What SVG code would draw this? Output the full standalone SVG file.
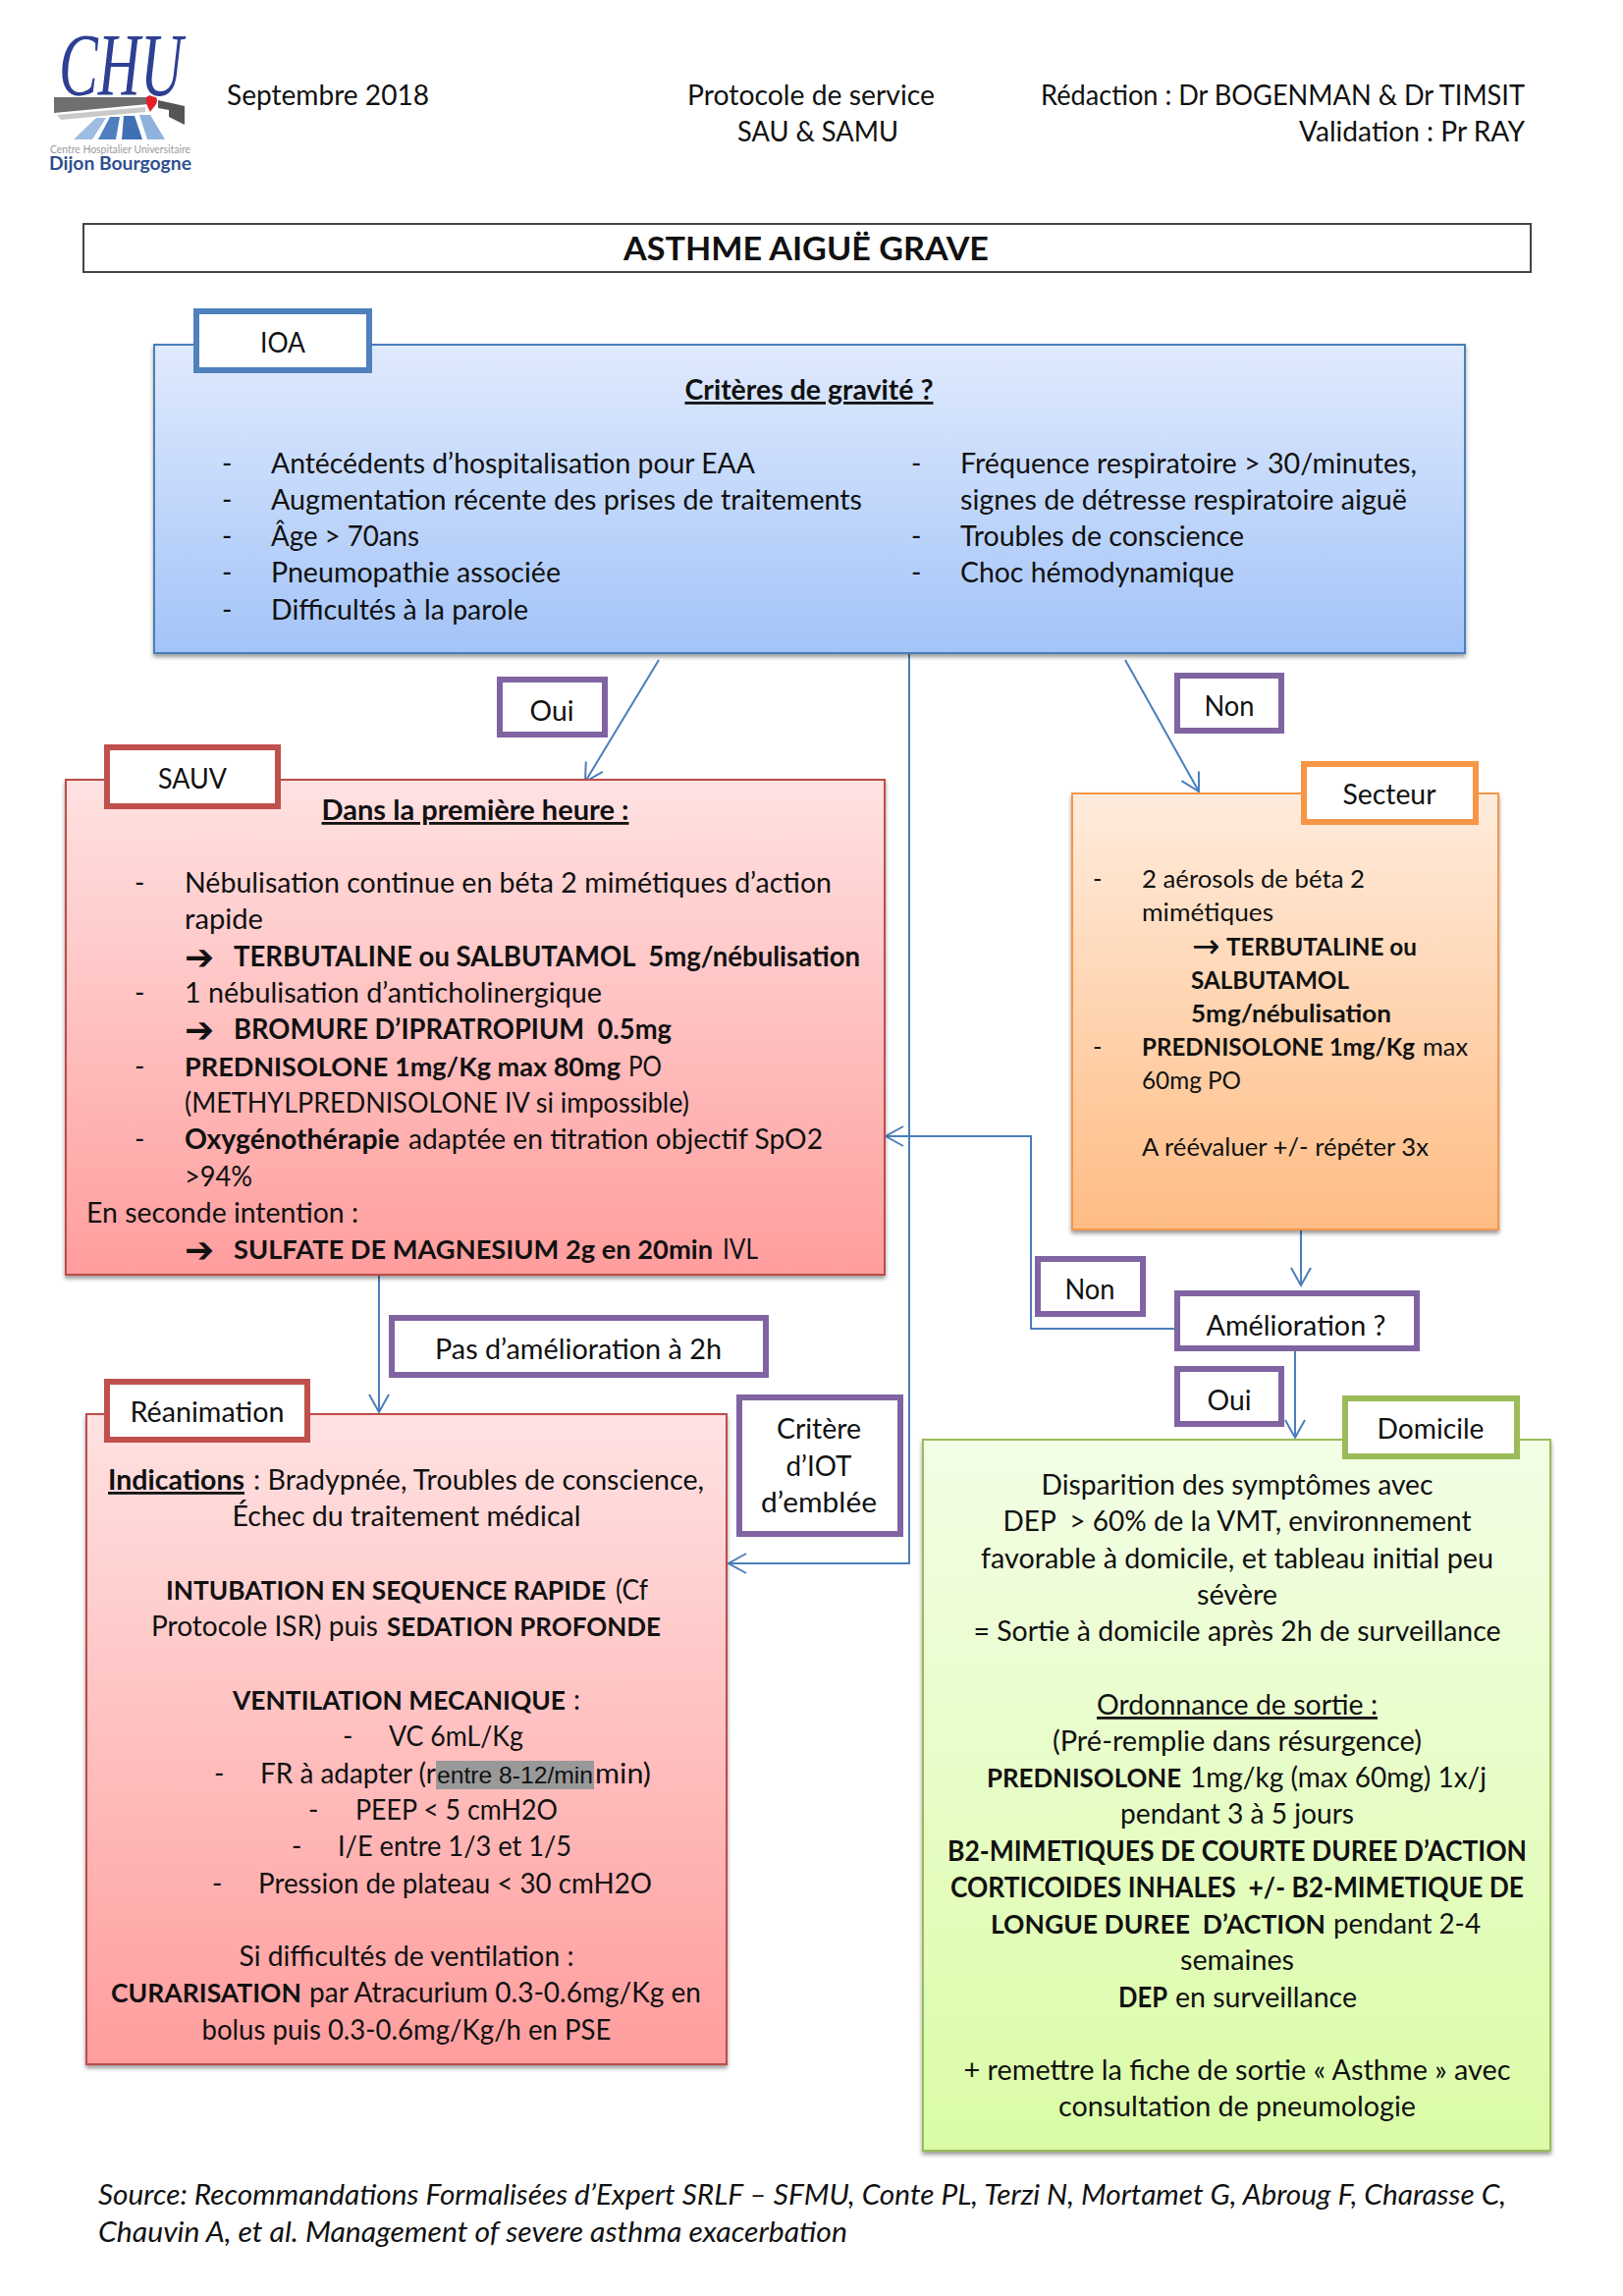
<svg xmlns="http://www.w3.org/2000/svg" width="1653" height="2338" viewBox="0 0 1653 2338">
<style>
text{font-family:"Lato","Carlito","Liberation Sans",sans-serif;font-size:28px;fill:#111;white-space:pre}
.b{font-weight:700}.m{text-anchor:middle}.e{text-anchor:end}.u{text-decoration:underline}
.s{font-size:25.5px}.i{font-style:italic}
.f26{font-size:26px}.f24{font-size:24px}.f27{font-size:26.8px}
.ar{font-family:"DejaVu Sans",sans-serif;font-size:36px;font-weight:700}
.ar2{font-family:"DejaVu Sans",sans-serif;font-size:34px}
.box{stroke-width:2;filter:url(#sh)}
.tab{fill:#fff;stroke-width:6}
.pu{fill:#fff;stroke:#8064a2;stroke-width:6}
.c{fill:none;stroke:#4a7ebb;stroke-width:2}
.a{marker-end:url(#op)}
</style>
<defs>
<filter id="sh" x="-3%" y="-3%" width="106%" height="106%"><feDropShadow dx="0" dy="3" stdDeviation="2" flood-color="#000" flood-opacity=".4"/></filter>
<linearGradient id="gb" x1="0" y1="0" x2="0" y2="1"><stop offset="0" stop-color="#e0eafd"/><stop offset="1" stop-color="#a3c4f8"/></linearGradient>
<linearGradient id="gr" x1="0" y1="0" x2="0" y2="1"><stop offset="0" stop-color="#ffe2e2"/><stop offset="1" stop-color="#ff9d9d"/></linearGradient>
<linearGradient id="go" x1="0" y1="0" x2="0" y2="1"><stop offset="0" stop-color="#ffecdd"/><stop offset="1" stop-color="#ffbc84"/></linearGradient>
<linearGradient id="gg" x1="0" y1="0" x2="0" y2="1"><stop offset="0" stop-color="#f3fee6"/><stop offset="1" stop-color="#dafca6"/></linearGradient>
<marker id="op" markerUnits="userSpaceOnUse" markerWidth="24" markerHeight="26" refX="20" refY="12" orient="auto"><path d="M2 2 L20 12 L2 22" fill="none" stroke="#4a7ebb" stroke-width="2"/></marker>
</defs>
<rect width="1653" height="2338" fill="#fff"/>

<g id="logo">
<polygon points="55,99 151,99 151,106 55,115" fill="#6f6f6f"/>
<polygon points="58,117 148,109 148,114 62,122" fill="#c9c9c9"/>
<polygon points="161,102 188,108 188,127 172,119 172,112 161,110" fill="#555"/>
<polygon points="75,142 98,120 108,120 94,142" fill="#9dbde3"/>
<polygon points="100,142 112,119 122,119 118,142" fill="#4f7fc0"/>
<polygon points="124,142 126,118 137,118 145,142" fill="#3f6fb5"/>
<polygon points="150,142 142,117 153,117 168,142" fill="#8fb2dd"/>
<path d="M153 97 C156 100 160 97 160 102 C160 107 155 110 153 114 C150 108 148 104 149 100 C150 97 152 98 153 97Z" fill="#e21e26"/>
<text x="60" y="97" class="i" style="font-family:'Liberation Serif',serif;font-size:90px;fill:#2e3f94" textLength="126" lengthAdjust="spacingAndGlyphs">CHU</text>
<text x="51" y="156" style="font-size:11.5px;fill:#9a9a9a" textLength="143" lengthAdjust="spacingAndGlyphs">Centre Hospitalier Universitaire</text>
<text x="50" y="173" class="b" style="font-size:19px;fill:#2f4f8f" textLength="145" lengthAdjust="spacingAndGlyphs">Dijon Bourgogne</text>
</g>

<g id="header">
<text x="231" y="107" textLength="206" lengthAdjust="spacingAndGlyphs">Septembre 2018</text>
<text x="826" y="107" class="m" textLength="252" lengthAdjust="spacingAndGlyphs">Protocole de service</text>
<text x="833" y="144" class="m" textLength="164" lengthAdjust="spacingAndGlyphs">SAU &amp; SAMU</text>
<text x="1553" y="107" class="e" textLength="493" lengthAdjust="spacingAndGlyphs">Rédaction : Dr BOGENMAN &amp; Dr TIMSIT</text>
<text x="1553" y="144" class="e" textLength="230" lengthAdjust="spacingAndGlyphs">Validation : Pr RAY</text>
</g>

<g id="title">
<rect x="85" y="228" width="1474" height="49" fill="#fff" stroke="#444" stroke-width="2"/>
<text x="821" y="265" class="b m" style="font-size:33px" textLength="372" lengthAdjust="spacingAndGlyphs">ASTHME AIGUË GRAVE</text>
</g>

<g id="connectors">
<path class="c a" d="M926 666V1592H742"/>
<path class="c a" d="M671 672L596 796"/>
<path class="c a" d="M1146 672L1221 806"/>
<path class="c a" d="M1197 1353H1050V1157H902"/>
<path class="c a" d="M1325 1252V1309"/>
<path class="c a" d="M1319 1373V1464"/>
<path class="c a" d="M386 1298V1438"/>
</g>

<g id="ioa">
<rect class="box" x="157" y="351" width="1335" height="314" fill="url(#gb)" stroke="#4a7ebb"/>
<rect class="tab" x="200" y="317" width="176" height="60" stroke="#4f81bd"/>
<text x="288" y="359" class="m" textLength="46" lengthAdjust="spacingAndGlyphs">IOA</text>
<text x="824" y="407" class="b m u" textLength="253" lengthAdjust="spacingAndGlyphs">Critères de gravité ?</text>
<text x="226" y="482">-</text><text x="276" y="482" textLength="493" lengthAdjust="spacingAndGlyphs">Antécédents d’hospitalisation pour EAA</text>
<text x="226" y="519">-</text><text x="276" y="519" textLength="602" lengthAdjust="spacingAndGlyphs">Augmentation récente des prises de traitements</text>
<text x="226" y="556">-</text><text x="276" y="556" textLength="151" lengthAdjust="spacingAndGlyphs">Âge &gt; 70ans</text>
<text x="226" y="593">-</text><text x="276" y="593" textLength="295" lengthAdjust="spacingAndGlyphs">Pneumopathie associée</text>
<text x="226" y="631">-</text><text x="276" y="631" textLength="262" lengthAdjust="spacingAndGlyphs">Difficultés à la parole</text>
<text x="928" y="482">-</text><text x="978" y="482" textLength="465" lengthAdjust="spacingAndGlyphs">Fréquence respiratoire &gt; 30/minutes,</text>
<text x="978" y="519" textLength="455" lengthAdjust="spacingAndGlyphs">signes de détresse respiratoire aiguë</text>
<text x="928" y="556">-</text><text x="978" y="556" textLength="289" lengthAdjust="spacingAndGlyphs">Troubles de conscience</text>
<text x="928" y="593">-</text><text x="978" y="593" textLength="279" lengthAdjust="spacingAndGlyphs">Choc hémodynamique</text>
</g>

<g id="oui1"><rect class="pu" x="509" y="692" width="107" height="56"/><text x="562" y="734" class="m" textLength="45" lengthAdjust="spacingAndGlyphs">Oui</text></g>
<g id="non1"><rect class="pu" x="1199" y="688" width="106" height="56"/><text x="1252" y="729" class="m" textLength="51" lengthAdjust="spacingAndGlyphs">Non</text></g>

<g id="sauv">
<rect class="box" x="67" y="794" width="834" height="504" fill="url(#gr)" stroke="#be4b48"/>
<rect class="tab" x="109" y="761" width="174" height="60" stroke="#c0504d"/>
<text x="196" y="803" class="m" textLength="70" lengthAdjust="spacingAndGlyphs">SAUV</text>
<text x="484" y="835" class="b m u" textLength="313" lengthAdjust="spacingAndGlyphs">Dans la première heure :</text>
<text x="137" y="909">-</text><text x="188" y="909" textLength="659" lengthAdjust="spacingAndGlyphs">Nébulisation continue en béta 2 mimétiques d’action</text>
<text x="188" y="946" textLength="80" lengthAdjust="spacingAndGlyphs">rapide</text>
<text x="188" y="987" class="ar">➔</text><text x="238" y="984" class="b" textLength="638" lengthAdjust="spacingAndGlyphs">TERBUTALINE ou SALBUTAMOL  5mg/nébulisation</text>
<text x="137" y="1021">-</text><text x="188" y="1021" textLength="425" lengthAdjust="spacingAndGlyphs">1 nébulisation d’anticholinergique</text>
<text x="188" y="1061" class="ar">➔</text><text x="238" y="1058" class="b" textLength="446" lengthAdjust="spacingAndGlyphs">BROMURE D’IPRATROPIUM  0.5mg</text>
<text x="137" y="1096">-</text><text x="188" y="1096" class="b f27" textLength="444" lengthAdjust="spacingAndGlyphs">PREDNISOLONE 1mg/Kg max 80mg</text><text x="640" y="1096" textLength="34" lengthAdjust="spacingAndGlyphs">PO</text>
<text x="188" y="1133" textLength="514" lengthAdjust="spacingAndGlyphs">(METHYLPREDNISOLONE IV si impossible)</text>
<text x="137" y="1170">-</text><text x="188" y="1170" class="b" textLength="219" lengthAdjust="spacingAndGlyphs">Oxygénothérapie</text><text x="416" y="1170" textLength="422" lengthAdjust="spacingAndGlyphs">adaptée en titration objectif SpO2</text>
<text x="188" y="1208" textLength="69" lengthAdjust="spacingAndGlyphs">&gt;94%</text>
<text x="88" y="1245" textLength="277" lengthAdjust="spacingAndGlyphs">En seconde intention :</text>
<text x="188" y="1285" class="ar">➔</text><text x="238" y="1282" class="b f27" textLength="488" lengthAdjust="spacingAndGlyphs">SULFATE DE MAGNESIUM 2g en 20min</text><text x="736" y="1282" textLength="36" lengthAdjust="spacingAndGlyphs">IVL</text>
</g>

<g id="secteur">
<rect class="box" x="1092" y="808" width="434" height="444" fill="url(#go)" stroke="#f79646"/>
<rect class="tab" x="1328" y="778" width="175" height="59" stroke="#f79646"/>
<text x="1415" y="819" class="m" textLength="95" lengthAdjust="spacingAndGlyphs">Secteur</text>
<text x="1113" y="904" class="s">-</text><text x="1163" y="904" class="s" textLength="227" lengthAdjust="spacingAndGlyphs">2 aérosols de béta 2</text>
<text x="1163" y="938" class="s" textLength="134" lengthAdjust="spacingAndGlyphs">mimétiques</text>
<text x="1214" y="975" class="ar2">→</text><text x="1249" y="973" class="s b" textLength="194" lengthAdjust="spacingAndGlyphs">TERBUTALINE ou</text>
<text x="1213" y="1007" class="s b" textLength="161" lengthAdjust="spacingAndGlyphs">SALBUTAMOL</text>
<text x="1213" y="1041" class="s b" textLength="204" lengthAdjust="spacingAndGlyphs">5mg/nébulisation</text>
<text x="1113" y="1075" class="s">-</text><text x="1163" y="1075" class="b f24" textLength="278" lengthAdjust="spacingAndGlyphs">PREDNISOLONE 1mg/Kg</text><text x="1449" y="1075" class="s" textLength="46" lengthAdjust="spacingAndGlyphs">max</text>
<text x="1163" y="1109" class="s" textLength="101" lengthAdjust="spacingAndGlyphs">60mg PO</text>
<text x="1163" y="1177" class="s" textLength="292" lengthAdjust="spacingAndGlyphs">A réévaluer +/- répéter 3x</text>
</g>

<g id="non2"><rect class="pu" x="1057" y="1282" width="107" height="56"/><text x="1110" y="1323" class="m" textLength="51" lengthAdjust="spacingAndGlyphs">Non</text></g>
<g id="amelioration"><rect class="pu" x="1199" y="1317" width="244" height="56"/><text x="1320" y="1360" class="m" textLength="183" lengthAdjust="spacingAndGlyphs">Amélioration ?</text></g>
<g id="oui2"><rect class="pu" x="1199" y="1394" width="106" height="56"/><text x="1252" y="1436" class="m" textLength="45" lengthAdjust="spacingAndGlyphs">Oui</text></g>
<g id="pas-amelioration"><rect class="pu" x="399" y="1342" width="381" height="58"/><text x="589" y="1384" class="m" textLength="292" lengthAdjust="spacingAndGlyphs">Pas d’amélioration à 2h</text></g>
<g id="critere"><rect class="pu" x="753" y="1423" width="164" height="139"/>
<text x="834" y="1465" class="m" textLength="86" lengthAdjust="spacingAndGlyphs">Critère</text><text x="834" y="1503" class="m" textLength="67" lengthAdjust="spacingAndGlyphs">d’IOT</text><text x="834" y="1540" class="m" textLength="118" lengthAdjust="spacingAndGlyphs">d’emblée</text></g>

<g id="reanimation">
<rect class="box" x="88" y="1440" width="652" height="662" fill="url(#gr)" stroke="#be4b48"/>
<rect class="tab" x="109" y="1407" width="204" height="59" stroke="#c0504d"/>
<text x="211" y="1448" class="m" textLength="157" lengthAdjust="spacingAndGlyphs">Réanimation</text>
<text x="110" y="1517" class="b u" textLength="139" lengthAdjust="spacingAndGlyphs">Indications</text><text x="258" y="1517" textLength="459" lengthAdjust="spacingAndGlyphs">: Bradypnée, Troubles de conscience,</text>
<text x="414" y="1554" class="m" textLength="355" lengthAdjust="spacingAndGlyphs">Échec du traitement médical</text>
<text x="169" y="1629" class="b f26" textLength="448" lengthAdjust="spacingAndGlyphs">INTUBATION EN SEQUENCE RAPIDE</text><text x="627" y="1629" textLength="33" lengthAdjust="spacingAndGlyphs">(Cf</text>
<text x="154" y="1666" textLength="231" lengthAdjust="spacingAndGlyphs">Protocole ISR) puis</text><text x="394" y="1666" class="b f26" textLength="279" lengthAdjust="spacingAndGlyphs">SEDATION PROFONDE</text>
<text x="237" y="1741" class="b f26" textLength="339" lengthAdjust="spacingAndGlyphs">VENTILATION MECANIQUE</text><text x="584" y="1741">:</text>
<text x="349" y="1778">-</text><text x="396" y="1778" textLength="137" lengthAdjust="spacingAndGlyphs">VC 6mL/Kg</text>
<text x="218" y="1816">-</text><text x="265" y="1816" textLength="179" lengthAdjust="spacingAndGlyphs">FR à adapter (r</text>
<rect x="444" y="1793" width="161" height="29" fill="#999"/>
<text x="445" y="1816" style="font-family:'Liberation Sans',sans-serif;font-size:24px" textLength="159" lengthAdjust="spacingAndGlyphs">entre 8-12/min</text>
<text x="606" y="1816" textLength="57" lengthAdjust="spacingAndGlyphs">min)</text>
<text x="314" y="1853">-</text><text x="362" y="1853" textLength="206" lengthAdjust="spacingAndGlyphs">PEEP &lt; 5 cmH2O</text>
<text x="297" y="1890">-</text><text x="344" y="1890" textLength="238" lengthAdjust="spacingAndGlyphs">I/E entre 1/3 et 1/5</text>
<text x="216" y="1928">-</text><text x="263" y="1928" textLength="401" lengthAdjust="spacingAndGlyphs">Pression de plateau &lt; 30 cmH2O</text>
<text x="414" y="2002" class="m" textLength="341" lengthAdjust="spacingAndGlyphs">Si difficultés de ventilation :</text>
<text x="113" y="2039" class="b f26" textLength="194" lengthAdjust="spacingAndGlyphs">CURARISATION</text><text x="315" y="2039" textLength="399" lengthAdjust="spacingAndGlyphs">par Atracurium 0.3-0.6mg/Kg en</text>
<text x="414" y="2077" class="m" textLength="417" lengthAdjust="spacingAndGlyphs">bolus puis 0.3-0.6mg/Kg/h en PSE</text>
</g>

<g id="domicile">
<rect class="box" x="940" y="1466" width="639" height="724" fill="url(#gg)" stroke="#9bbb59"/>
<rect class="tab" x="1370" y="1424" width="175" height="59" stroke="#9bbb59"/>
<text x="1457" y="1465" class="m" textLength="109" lengthAdjust="spacingAndGlyphs">Domicile</text>
<text x="1260" y="1522" class="m" textLength="399" lengthAdjust="spacingAndGlyphs">Disparition des symptômes avec</text>
<text x="1260" y="1559" class="m" textLength="477" lengthAdjust="spacingAndGlyphs">DEP  &gt; 60% de la VMT, environnement</text>
<text x="1260" y="1597" class="m" textLength="522" lengthAdjust="spacingAndGlyphs">favorable à domicile, et tableau initial peu</text>
<text x="1260" y="1634" class="m" textLength="82" lengthAdjust="spacingAndGlyphs">sévère</text>
<text x="1260" y="1671" class="m" textLength="537" lengthAdjust="spacingAndGlyphs">= Sortie à domicile après 2h de surveillance</text>
<text x="1260" y="1746" class="m u" textLength="286" lengthAdjust="spacingAndGlyphs">Ordonnance de sortie :</text>
<text x="1260" y="1783" class="m" textLength="376" lengthAdjust="spacingAndGlyphs">(Pré-remplie dans résurgence)</text>
<text x="1005" y="1820" class="b f26" textLength="198" lengthAdjust="spacingAndGlyphs">PREDNISOLONE</text><text x="1212" y="1820" textLength="302" lengthAdjust="spacingAndGlyphs">1mg/kg (max 60mg) 1x/j</text>
<text x="1260" y="1857" class="m" textLength="238" lengthAdjust="spacingAndGlyphs">pendant 3 à 5 jours</text>
<text x="1260" y="1895" class="m b" textLength="590" lengthAdjust="spacingAndGlyphs">B2-MIMETIQUES DE COURTE DUREE D’ACTION</text>
<text x="1260" y="1932" class="m b" textLength="584" lengthAdjust="spacingAndGlyphs">CORTICOIDES INHALES  +/- B2-MIMETIQUE DE</text>
<text x="1009" y="1969" class="b f26" textLength="341" lengthAdjust="spacingAndGlyphs">LONGUE DUREE  D’ACTION</text><text x="1358" y="1969" textLength="150" lengthAdjust="spacingAndGlyphs">pendant 2-4</text>
<text x="1260" y="2006" class="m" textLength="116" lengthAdjust="spacingAndGlyphs">semaines</text>
<text x="1139" y="2044" class="b" textLength="50" lengthAdjust="spacingAndGlyphs">DEP</text><text x="1197" y="2044" textLength="185" lengthAdjust="spacingAndGlyphs">en surveillance</text>
<text x="1260" y="2118" class="m" textLength="557" lengthAdjust="spacingAndGlyphs">+ remettre la fiche de sortie « Asthme » avec</text>
<text x="1260" y="2155" class="m" textLength="364" lengthAdjust="spacingAndGlyphs">consultation de pneumologie</text>
</g>

<g id="source">
<text x="100" y="2245" class="i" textLength="1434" lengthAdjust="spacingAndGlyphs">Source: Recommandations Formalisées d’Expert SRLF – SFMU, Conte PL, Terzi N, Mortamet G, Abroug F, Charasse C,</text>
<text x="100" y="2283" class="i" textLength="763" lengthAdjust="spacingAndGlyphs">Chauvin A, et al. Management of severe asthma exacerbation</text>
</g>
</svg>
